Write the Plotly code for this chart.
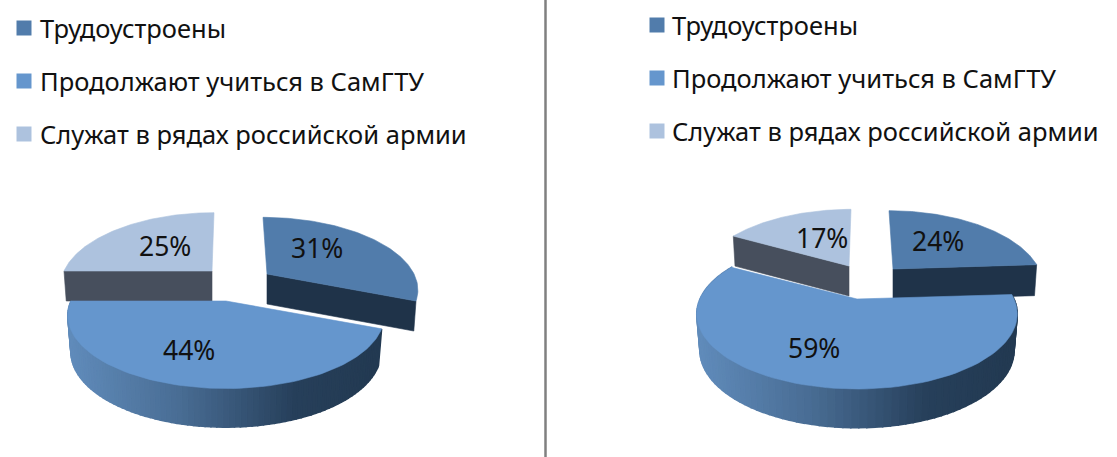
import numpy as np
import plotly.graph_objects as go

# ---- data ----
categories = ["Трудоустроены", "Продолжают учиться в СамГТУ", "Служат в рядах российской армии"]
left_values = [31, 44, 25]
right_values = [24, 59, 17]

# ---- style ----
TOP = ["#517cab", "#6596cd", "#adc2de"]
CUT = ["#1f3349", None, "#474f5d"]
RAMP = [(0.0, (0x60, 0x8b, 0xba)), (0.35, (0x49, 0x6d, 0x94)), (0.72, (0x27, 0x40, 0x5b)), (1.0, (0x23, 0x3a, 0x52))]
K = 0.2
FONT = "Noto Sans"

fig = go.Figure()


def project(theta, ax, ay, f, g, skew):
    X, Y = np.sin(theta), np.cos(theta)
    w = 1 + K * Y
    return ax + f * X / w + skew * Y, ay - g * Y / w


def poly(xs, ys, color, lw=0.6):
    fig.add_trace(go.Scatter(x=xs, y=ys, mode="lines", fill="toself", fillcolor=color,
                             line=dict(color=color, width=lw), hoverinfo="skip", showlegend=False))


def ramp(t):
    t = min(max(t, 0), 1)
    for (a, ca), (b, cb) in zip(RAMP, RAMP[1:]):
        if t <= b:
            u = (t - a) / (b - a)
            return "rgb(%d,%d,%d)" % tuple(ca[i] + (cb[i] - ca[i]) * u for i in range(3))
    return "rgb(35,58,82)"


def slice3d(a0, a1, idx, ax, ay, f, g, skew, depth, cut=None, main=False):
    th = np.linspace(a0, a1, 90)
    tx, ty = project(th, ax, ay, f, g, skew)
    if main:
        f2, g2, d2 = f * 0.98, g * 1.03, depth
        bx, by = project(th, ax, ay + d2, f2, g2, skew)
        left, width = ax - f, 2 * f
        for i in range(len(th) - 1):
            mid = (tx[i] + tx[i + 1]) / 2
            poly([tx[i], tx[i + 1], bx[i + 1], bx[i], tx[i]],
                 [ty[i], ty[i + 1], by[i + 1], by[i], ty[i]], ramp((mid - left) / width), lw=1.6)
    else:
        bx, by = project(th, ax, ay + depth, f * 0.985, g, skew)
        end = {"start": 0, "end": -1}[cut]
        poly([ax, tx[end], bx[end], ax, ax], [ay, ty[end], by[end], ay + depth, ay], CUT[idx])
    poly([ax] + list(tx) + [ax], [ay] + list(ty) + [ay], TOP[idx])


def angles(values):
    edges = np.cumsum([0] + values) / sum(values) * 2 * np.pi
    return list(zip(edges[:-1], edges[1:]))


# left pie
la = angles(left_values)
slice3d(*la[2], 2, 212, 271, 148, 70, 2, 30, cut="start")
slice3d(*la[0], 0, 267, 274, 147, 68, -4, 30, cut="end")
slice3d(*la[1], 1, 226, 301, 155, 70, 0, 36, main=True)

# right pie
ra = angles(right_values)
slice3d(*ra[2], 2, 849, 266, 146, 68, 2, 30, cut="start")
slice3d(*ra[0], 0, 893, 269, 146, 70, -4, 31, cut="end")
slice3d(*ra[1], 1, 857, 299, 157, 72, 0, 36, main=True)

annotations = []
# percentage labels
for vals, pos in ((left_values, [(317, 248), (189, 350), (165, 246)]),
                  (right_values, [(938, 241), (814, 348), (822, 238)])):
    for v, (x, y) in zip(vals, pos):
        annotations.append(dict(x=x, y=y, text=f"{v}%", showarrow=False, xanchor="center", yanchor="middle",
                                font=dict(family=FONT, size=26.5, color="#111111")))

# legends
for sq_x, tx_x, rows in ((24, 38, (28, 81, 134)), (657, 670, (25, 78, 131))):
    for name, color, y in zip(categories, [TOP[0], TOP[1], TOP[2]], rows):
        fig.add_trace(go.Scatter(x=[sq_x], y=[y], mode="markers", hoverinfo="skip", showlegend=False,
                                 marker=dict(symbol="square", size=15, color=color)))
        annotations.append(dict(x=tx_x, y=y, text=name, showarrow=False, xanchor="left", yanchor="middle",
                                font=dict(family=FONT, size=25.5, color="#111111")))

fig.update_layout(
    width=1117, height=457, margin=dict(l=0, r=0, t=0, b=0),
    paper_bgcolor="white", plot_bgcolor="white", showlegend=False,
    xaxis=dict(range=[0, 1117], visible=False, fixedrange=True),
    yaxis=dict(range=[457, 0], visible=False, fixedrange=True),
    annotations=annotations,
    shapes=[dict(type="line", x0=545.5, x1=545.5, y0=0, y1=457, line=dict(color="#808080", width=2.5))],
)
fig.write_html("out.html", config={"displayModeBar": False},
               post_script="document.body.style.margin='0';document.body.style.overflow='hidden';")
